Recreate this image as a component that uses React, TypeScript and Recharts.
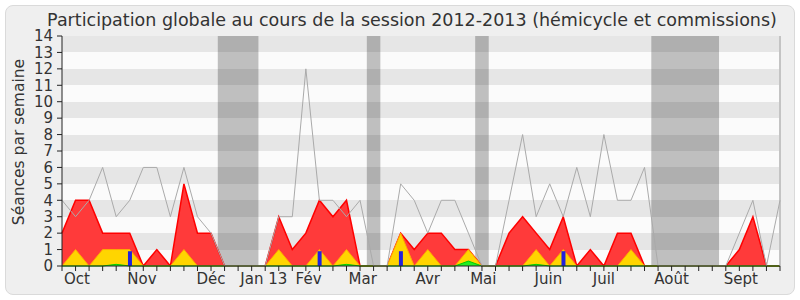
import React from "react";
import {
  ComposedChart,
  Area,
  Bar,
  Line,
  XAxis,
  YAxis,
  CartesianGrid,
  ReferenceArea,
  ReferenceLine,
} from "recharts";

// one point per week, Oct 2012 -> Sept 2013
const WEEKS = Array.from({ length: 54 }, (_, i) => i);

const TOTAL = [4, 3, 4, 6, 3, 4, 6, 6, 3, 6, 3, 2, 0, 0, 0, 0, 3, 3, 12, 4, 4, 3, 4, 0, 0, 5, 4, 2, 4, 4, 2, 0, 0, 4, 8, 3, 5, 3, 6, 3, 8, 4, 4, 6, 0, 0, 0, 0, 0, 0, 2, 4, 0, 4];
const PRESENCES = [2, 4, 4, 2, 2, 2, 0, 1, 0, 5, 2, 2, 0, 0, 0, 0, 3, 1, 2, 4, 3, 4, 0, 0, 0, 2, 1, 2, 2, 1, 1, 0, 0, 2, 3, 2, 1, 3, 0, 1, 0, 2, 2, 0, 0, 0, 0, 0, 0, 0, 1, 3, 0, 0];
const INTERVENTIONS = [0, 1, 0, 1, 1, 1, 0, 0, 0, 1, 0, 0, 0, 0, 0, 0, 1, 0, 0, 1, 0, 1, 0, 0, 0, 2, 0, 1, 0, 0, 1, 0, 0, 0, 0, 1, 0, 1, 0, 0, 0, 0, 1, 0, 0, 0, 0, 0, 0, 0, 0, 0, 0, 0];
const AMENDEMENTS = [0, 0, 0, 0, 0.1, 0, 0, 0, 0, 0, 0, 0, 0, 0, 0, 0, 0, 0, 0, 0, 0, 0.1, 0, 0, 0, 0, 0, 0, 0, 0, 0.3, 0, 0, 0, 0, 0.1, 0, 0, 0, 0, 0, 0, 0, 0, 0, 0, 0, 0, 0, 0, 0, 0, 0, 0];
const QUESTIONS = [0, 0, 0, 0, 0, 0.9, 0, 0, 0, 0, 0, 0, 0, 0, 0, 0, 0, 0, 0, 0.9, 0, 0, 0, 0, 0, 0.9, 0, 0, 0, 0, 0, 0, 0, 0, 0, 0, 0, 0.9, 0, 0, 0, 0, 0, 0, 0, 0, 0, 0, 0, 0, 0, 0, 0, 0];

const VACANCES = [
  [11.5, 14.5],
  [22.5, 23.5],
  [30.5, 31.5],
  [43.5, 48.5],
];

const MONTHS = ["Oct", "Nov", "Déc", "Jan 13", "Fév", "Mar", "Avr", "Mai", "Juin", "Juil", "Août", "Sept"];
const MONTH_POS = [1.1, 5.9, 11, 14.9, 18.2, 22.2, 27, 31.1, 35.9, 40, 45, 50.1];

const Y_TICKS = Array.from({ length: 15 }, (_, i) => i);

const data = WEEKS.map((w, i) => ({
  week: w,
  total: TOTAL[i],
  presences: PRESENCES[i],
  interventions: INTERVENTIONS[i],
  amendements: AMENDEMENTS[i],
  questions: QUESTIONS[i] || null,
}));

const FONT = "'DejaVu Sans', sans-serif";
const TEXT = "#333333";

const BottomTick = (props: any) => {
  const { x, y, index } = props;
  if (index < WEEKS.length) {
    return <line x1={x} x2={x} y1={y} y2={y + 5} stroke="#222" />;
  }
  return (
    <text x={x} y={y + 18} textAnchor="middle" fontSize={15} fill={TEXT} fontFamily={FONT}>
      {MONTHS[index - WEEKS.length]}
    </text>
  );
};

// little dots along the top edge
const TopTick = (props: any) => {
  const { x, y } = props;
  return <rect x={x - 0.5} y={y - 2} width={1} height={1} fill="#000" />;
};

export default function App() {
  return (
    <div style={{ position: "absolute", left: 0, top: 0, width: 800, height: 300, background: "#fff" }}>
      <div
        style={{
          position: "absolute",
          left: 5,
          top: 5,
          width: 788,
          height: 288,
          border: "1px solid #dadada",
          borderRadius: 8,
          background: "#efefef",
        }}
      />
      <div style={{ position: "absolute", left: 0, top: 0 }}>
        <ComposedChart width={800} height={300} data={data} margin={{ top: 36, right: 20, bottom: 0, left: 0 }}>
          <CartesianGrid
            vertical={false}
            stroke="none"
            horizontalFill={["#e6e6e6", "#fbfbfb"]}
          />
          {VACANCES.map(([a, b], i) => (
            <ReferenceArea key={i} x1={a} x2={b} fill="#000" fillOpacity={0.24} stroke="none" ifOverflow="extendDomain" />
          ))}
          <XAxis
            dataKey="week"
            type="number"
            domain={[0, 53]}
            ticks={[...WEEKS, ...MONTH_POS]}
            interval={0}
            tickSize={0}
            tickMargin={0}
            tickLine={false}
            tick={<BottomTick />}
            axisLine={{ stroke: "#222" }}
            height={34}
          />
          <XAxis
            xAxisId="top"
            orientation="top"
            dataKey="week"
            type="number"
            domain={[0, 53]}
            ticks={WEEKS}
            interval={0}
            tickSize={0}
            tickMargin={0}
            tickLine={false}
            tick={<TopTick />}
            axisLine={false}
            height={0}
          />
          <YAxis
            type="number"
            domain={[0, 14]}
            ticks={Y_TICKS}
            interval={0}
            width={62}
            tickSize={5}
            tickMargin={4}
            tickLine={{ stroke: "#222" }}
            axisLine={{ stroke: "#222" }}
            tick={{ fontSize: 15, fill: TEXT, fontFamily: FONT }}
          />
          <ReferenceLine x={53} stroke="#c4c4c4" strokeWidth={2} />
          <Area
            type="linear"
            dataKey="presences"
            fill="#ff3a3a"
            fillOpacity={1}
            stroke="#ff0000"
            strokeWidth={1.5}
            isAnimationActive={false}
          />
          <Area
            type="linear"
            dataKey="interventions"
            fill="#ffd500"
            fillOpacity={1}
            stroke="#ffaa00"
            strokeWidth={1}
            isAnimationActive={false}
          />
          <Area
            type="linear"
            dataKey="amendements"
            fill="#22ee22"
            fillOpacity={1}
            stroke="#00cc00"
            strokeWidth={1}
            isAnimationActive={false}
          />
          <Bar dataKey="questions" fill="#2222dd" barSize={4} isAnimationActive={false} />
          <Line
            type="linear"
            dataKey="total"
            stroke="#aaaaaa"
            strokeWidth={1}
            dot={false}
            isAnimationActive={false}
          />
        </ComposedChart>
      </div>
      <svg width={800} height={300} style={{ position: "absolute", left: 0, top: 0, pointerEvents: "none" }}>
        <text x={412} y={26} textAnchor="middle" fontSize={17.5} fill={TEXT} fontFamily={FONT}>
          Participation globale au cours de la session 2012-2013 (hémicycle et commissions)
        </text>
        <text
          x={24}
          y={142}
          textAnchor="middle"
          fontSize={15.5}
          fill={TEXT}
          fontFamily={FONT}
          transform="rotate(-90 24 142)"
        >
          Séances par semaine
        </text>
      </svg>
    </div>
  );
}
